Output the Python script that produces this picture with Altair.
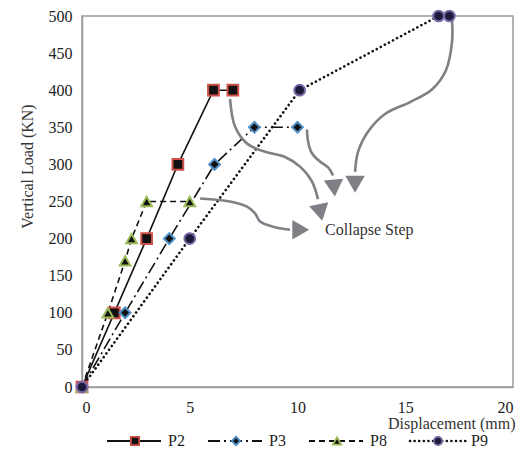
import altair as alt
import pandas as pd

# ---- series data (displacement mm, vertical load kN) ----
series = ["P2", "P3", "P8", "P9"]
P2_x = [0, 1.5, 3.0, 4.45, 6.1, 7.0]
P2_y = [0, 100, 200, 300, 400, 400]
P3_x = [0, 2.0, 4.05, 6.15, 8.0, 10.0]
P3_y = [0, 100, 200, 300, 350, 350]
P8_x = [0, 1.2, 2.0, 2.3, 3.0, 5.0]
P8_y = [0, 100, 170, 200, 250, 250]
P9_x = [0, 5.0, 10.1, 16.55, 17.05]
P9_y = [0, 200, 400, 500, 500]

x_ticks = [0, 5, 10, 15, 20]
y_ticks = [0, 50, 100, 150, 200, 250, 300, 350, 400, 450, 500]

# ---- "Collapse Step" annotation arrows (data units) ----
arrowA_x = [5.48, 6.87, 7.66, 8.03, 8.26, 8.86, 9.65]
arrowA_y = [254, 250, 243, 234, 223, 216, 212]
arrowB_x = [6.87, 7.10, 7.66, 8.49, 9.42, 10.12, 10.67, 10.95]
arrowB_y = [388, 351, 328, 317, 310, 297, 277, 253]
arrowC_x = [10.44, 10.49, 10.67, 11.04, 11.42, 11.65]
arrowC_y = [347, 331, 315, 304, 296, 285]
arrowD_x = [17.17, 17.17, 16.89, 16.24, 15.22, 14.06, 13.27, 12.81, 12.67]
arrowD_y = [496, 465, 427, 401, 384, 368, 344, 317, 290]
head_x = [10.02, 11.04, 11.69, 12.67]
head_y = [212, 239, 272, 277]
head_angle = [90, 168, 175, 180]
note_text = "Collapse Step"
note_x = 11.28
note_y = 211

rows = []
for name, xs_, ys_ in [("P2", P2_x, P2_y), ("P3", P3_x, P3_y),
                       ("P8", P8_x, P8_y), ("P9", P9_x, P9_y)]:
    for i, (xv, yv) in enumerate(zip(xs_, ys_)):
        rows.append({"series": name, "disp": xv, "load": yv, "i": i})
df = pd.DataFrame(rows)

arows = []
for name, xs_, ys_ in [("A", arrowA_x, arrowA_y), ("B", arrowB_x, arrowB_y),
                       ("C", arrowC_x, arrowC_y), ("D", arrowD_x, arrowD_y)]:
    for i, (xv, yv) in enumerate(zip(xs_, ys_)):
        arows.append({"arrow": name, "disp": xv, "load": yv, "i": i})
adf = pd.DataFrame(arows)
hdf = pd.DataFrame({"disp": head_x, "load": head_y, "angle": head_angle})
tdf = pd.DataFrame({"disp": [note_x], "load": [note_y], "t": [note_text]})

FONT = "Liberation Serif"
dash_range = [[1, 0], [12, 4, 2, 4], [6, 4], [2, 3]]
shape_range = ["square", "diamond", "triangle-up", "circle"]
edge_range = ["#d0504a", "#4f8fc8", "#9bbb59", "#7b68a6"]
fill_range = ["#111111", "#111111", "#111111", "#1c1a3a"]

xs = alt.Scale(domain=[0, 20], nice=False)
ys = alt.Scale(domain=[0, 500], nice=False)

dash_enc = alt.StrokeDash("series:N", scale=alt.Scale(domain=series, range=dash_range), legend=None)
shape_enc = alt.Shape("series:N", scale=alt.Scale(domain=series, range=shape_range), legend=None)
stroke_enc = alt.Stroke("series:N", scale=alt.Scale(domain=series, range=edge_range), legend=None)
fill_enc = alt.Fill("series:N", scale=alt.Scale(domain=series, range=fill_range), legend=None)

xaxis = alt.Axis(values=x_ticks, title="Displacement (mm)", grid=False,
                 ticks=False, tickSize=0, labelPadding=12, labelOverlap=False,
                 titleX=433, titleY=36, titleAlign="right", titleBaseline="middle")
yaxis = alt.Axis(values=y_ticks, title="Vertical Load (KN)", grid=False,
                 ticks=False, tickSize=0, labelPadding=10, labelOverlap=False,
                 titleX=-55, titleY=150, titleAlign="center", titleBaseline="middle")
xenc = alt.X("disp:Q", scale=xs, axis=xaxis)
yenc = alt.Y("load:Q", scale=ys, axis=yaxis)

lines9 = alt.Chart(df[df.series == "P9"]).mark_line(
    color="#111111", strokeWidth=2.6, strokeCap="round", strokeDash=[0.1, 4.5]).encode(
    x=xenc, y=yenc, order="i:Q")
lines_other = alt.Chart(df[df.series != "P9"]).mark_line(
    color="#111111", strokeWidth=1.6).encode(
    x=xenc, y=yenc, detail="series:N", strokeDash=dash_enc, order="i:Q")

points = alt.Chart(df).mark_point(filled=False, size=115, strokeWidth=2, opacity=1).encode(
    x=xenc, y=yenc, shape=shape_enc, stroke=stroke_enc, fill=fill_enc)

arrows = alt.Chart(adf).mark_line(color="#7f7f85", strokeWidth=2.6,
                                  interpolate="catmull-rom").encode(
    x=xenc, y=yenc, detail="arrow:N", order="i:Q")
heads = alt.Chart(hdf).mark_point(shape="triangle", filled=True, color="#7f7f85",
                                  size=380, opacity=1).encode(
    x=xenc, y=yenc, angle=alt.Angle("angle:Q", scale=None))
note = alt.Chart(tdf).mark_text(align="left", baseline="middle", font=FONT,
                                fontSize=16, color="#333333").encode(
    x=xenc, y=yenc, text="t:N")

main = alt.layer(lines_other, lines9, arrows, heads, note, points)

# ---- bottom legend ----
ldf = pd.DataFrame({"series": series, "k": list(range(len(series)))})
lx = alt.X("k:Q", scale=alt.Scale(domain=[0, 3], range=[53, 356]), axis=None)
LEG_Y = 425
leg_line = alt.Chart(ldf[ldf.series != "P9"]).mark_rule(
    color="#111111", strokeWidth=1.8, xOffset=-28, x2Offset=26).encode(
    x=lx, x2="k:Q", y=alt.value(LEG_Y), strokeDash=dash_enc)
leg_line9 = alt.Chart(ldf[ldf.series == "P9"]).mark_rule(
    color="#111111", strokeWidth=2.6, strokeCap="round", strokeDash=[0.1, 4.5],
    xOffset=-28, x2Offset=29).encode(
    x=lx, x2="k:Q", y=alt.value(LEG_Y))
leg_pt = alt.Chart(ldf).mark_point(filled=False, size=70, strokeWidth=1.8, opacity=1).encode(
    x=lx, y=alt.value(LEG_Y), shape=shape_enc, stroke=stroke_enc, fill=fill_enc)
leg_txt = alt.Chart(ldf).mark_text(align="left", baseline="middle", dx=33,
                                   font=FONT, fontSize=16, color="#222222").encode(
    x=lx, y=alt.value(LEG_Y), text="series:N")
legend = alt.layer(leg_line, leg_line9, leg_pt, leg_txt)

chart = alt.layer(main, legend).resolve_scale(x="independent").properties(
    width=431, height=371,
    autosize=alt.AutoSizeParams(type="none"),
    padding={"left": 74, "top": 8, "right": 4, "bottom": 63},
    background="white",
).configure_view(stroke="#9a9a9a", strokeWidth=1.5).configure_axis(
    domainColor="#9a9a9a", domainWidth=1.5,
    labelFont=FONT, labelFontSize=16, labelColor="#222222",
    titleFont=FONT, titleFontSize=16, titleColor="#333333", titleFontWeight="normal",
)

chart.save("out.html", embed_options={"renderer": "svg", "actions": False})
